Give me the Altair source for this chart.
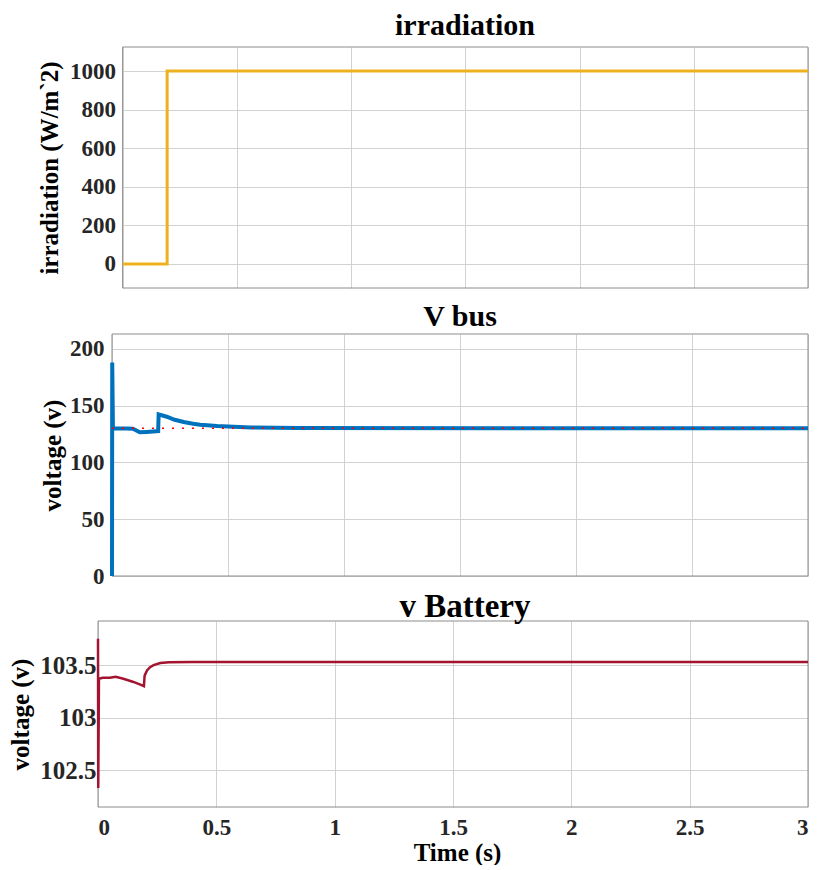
import altair as alt
import pandas as pd

# ---------------- data ----------------
irr_t = [0.0, 0.195, 0.195, 3.0]
irr_v = [0, 0, 1000, 1000]

bus_t = [0.0, 0.001, 0.004, 0.02, 0.06, 0.09, 0.12, 0.15, 0.19, 0.199, 0.201,
         0.236, 0.27, 0.309, 0.35, 0.38, 0.453, 0.524, 0.6, 0.8, 3.0]
bus_v = [0, 188, 130, 129.8, 129.8, 129.6, 126.5, 126.8, 127.3, 127.5, 142.2,
         140.2, 137.5, 135.5, 134.0, 133.2, 132.0, 131.4, 130.8, 130.2, 130.0]

ref_t = [0.0, 3.0]
ref_v = [130, 130]

bat_t = [0.0, 0.001, 0.004, 0.02, 0.05, 0.075, 0.107, 0.15, 0.184, 0.194, 0.197,
         0.207, 0.22, 0.235, 0.263, 0.3, 0.4, 3.0]
bat_v = [103.75, 102.33, 103.37, 103.38, 103.38, 103.39, 103.37, 103.34, 103.31, 103.30,
         103.40, 103.45, 103.48, 103.50, 103.52, 103.528, 103.53, 103.53]

x_ticks = [0, 0.5, 1, 1.5, 2, 2.5, 3]
x_domain = [0, 3]
irr_ticks = [0, 200, 400, 600, 800, 1000]
irr_domain = [-125, 1125]
bus_ticks = [0, 50, 100, 150, 200]
bus_domain = [0, 213]
bat_ticks = [102.5, 103, 103.5]
bat_domain = [102.15, 103.92]

FONT = "Liberation Serif"
GRID = "#d2d2d2"
FRAME = "#8c8c8c"
GW = 710  # common group width (plot areas share the right edge)


def df(t, v):
    return pd.DataFrame({"t": t, "v": v, "i": list(range(len(t)))})


def x_parts(x0, show):
    sc = alt.Scale(domain=x_domain, nice=False, zero=False, range=[x0, GW])
    if show:
        axis = alt.Axis(values=x_ticks, format="~r", grid=True, gridColor=GRID,
                        domain=False, ticks=False, tickSize=0,
                        labelFont=FONT, labelFontSize=23, labelFontWeight="bold",
                        labelColor="#262626", labelPadding=9,
                        title="Time (s)", titleFont=FONT, titleFontSize=25,
                        titleFontWeight="bold", titleColor="black",
                        titleX=359, titleY=33, titleBaseline="top")
    else:
        axis = alt.Axis(values=x_ticks, grid=True, gridColor=GRID, domain=False,
                        ticks=False, tickSize=0, labels=False, title=None)
    return sc, axis


def y_parts(domain, ticks, title, lsize, lpad, tx, height, x0):
    axis = alt.Axis(values=ticks, format="~r", grid=True, gridColor=GRID,
                    domain=False, ticks=False, tickSize=0, offset=-x0,
                    labelFont=FONT, labelFontSize=lsize, labelFontWeight="bold",
                    labelColor="#262626", labelPadding=lpad,
                    title=title, titleFont=FONT, titleFontSize=25,
                    titleFontWeight="bold", titleColor="black",
                    titleAngle=270, titleAlign="center", titleBaseline="bottom",
                    titleX=tx, titleY=height / 2)
    return alt.Scale(domain=domain, nice=False, zero=False), axis


def frame(ydom, xs, xa, ys, ya):
    d = pd.DataFrame({"t": [x_domain[0]], "t2": [x_domain[1]],
                      "v": [ydom[0]], "v2": [ydom[1]]})
    return alt.Chart(d).mark_rect(fillOpacity=0, stroke=FRAME, strokeWidth=1).encode(
        x=alt.X("t:Q", scale=xs, axis=xa), x2="t2:Q",
        y=alt.Y("v:Q", scale=ys, axis=ya), y2="v2:Q")


def anchor(left, height, below):
    return alt.Chart(pd.DataFrame({"a": [0]})).mark_rule(opacity=0).encode(
        x=alt.value(-left), y=alt.value(0), y2=alt.value(height + below))


def ttl(text, size, offset, dx):
    return alt.TitleParams(text, font=FONT, fontSize=size, fontWeight="bold",
                           color="black", offset=offset, baseline="bottom",
                           anchor="middle", frame="group", dx=dx)


def panel(ydom, yticks, ytitle, lsize, lpad, tx, H, X0, show_x, series, left, below,
          title, tsize, toff, tdx):
    xs, xa = x_parts(X0, show_x)
    ys, ya = y_parts(ydom, yticks, ytitle, lsize, lpad, tx, H, X0)
    layers = [frame(ydom, xs, xa, ys, ya)]
    for (t, v, style) in series:
        layers.append(alt.Chart(df(t, v)).mark_line(**style).encode(
            x=alt.X("t:Q", scale=xs, axis=xa),
            y=alt.Y("v:Q", scale=ys, axis=ya),
            order="i:Q"))
    layers.append(anchor(left, H, below))
    return alt.layer(*layers).properties(width=GW, height=H,
                                         title=ttl(title, tsize, toff, tdx))


p1 = panel(irr_domain, irr_ticks, "irradiation (W/m`2)", 23, 7, -60.6, 241, 24.6, False,
           [(irr_t, irr_v, dict(color="#EDB120", strokeWidth=3))],
           0, 13, "irradiation", 30, -24, 12)

p2 = panel(bus_domain, bus_ticks, "voltage (v)", 23, 8, -46.7, 242, 14.0, False,
           [(bus_t, bus_v, dict(color="#0072BD", strokeWidth=4)),
            (ref_t, ref_v, dict(color="#FF0000", strokeWidth=1.6, strokeDash=[2, 8]))],
           0, 14, "V bus", 30, -28, 7)

p3 = panel(bat_domain, bat_ticks, "voltage (v)", 25, 2, -64.4, 186, 0.0, True,
           [(bat_t, bat_v, dict(color="#A2142F", strokeWidth=2.5))],
           98, 0, "v Battery", 33, -36, 12)

chart = alt.concat(p1, p2, p3, columns=1, spacing=0).properties(
    padding={"left": 0, "top": 10, "right": 0, "bottom": 0},
    background="white",
).configure_view(stroke="transparent", strokeWidth=0)

chart.save("out.html", embed_options={"renderer": "svg", "actions": False})
